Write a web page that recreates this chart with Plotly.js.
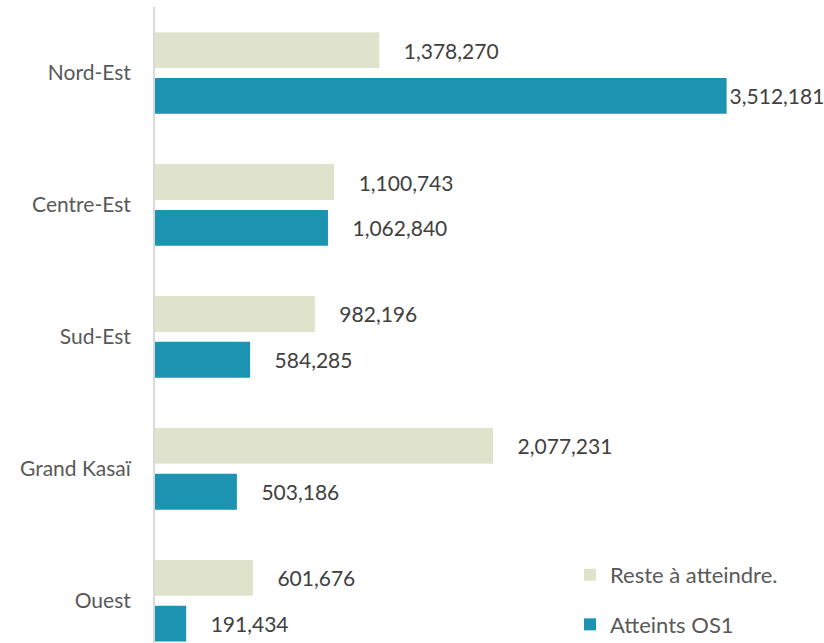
<!DOCTYPE html>
<html>
<head>
<meta charset="utf-8">
<script src="https://cdn.plot.ly/plotly-3.0.1.min.js"></script>
<style>html,body{margin:0;padding:0;background:#fff;}#chart{width:824px;height:643px;}</style>
</head>
<body>
<div id="chart"></div>
<script>
// Categories listed bottom to top (Plotly category axis grows upward)
const categories = ["Ouest", "Grand Kasaï", "Sud-Est", "Centre-Est", "Nord-Est"];
const resteValues = [601676, 2077231, 982196, 1100743, 1378270];
const atteintsValues = [191434, 503186, 584285, 1062840, 3512181];
const seriesNames = ["Reste à atteindre.", "Atteints OS1"];

const allMax = Math.max(...resteValues, ...atteintsValues);
const pad = "\u00a0\u00a0\u00a0\u00a0";
function labels(vals) {
  return vals.map(v => (v === allMax ? "" : pad) + v.toLocaleString("en-US"));
}

const FONT = "Lato, 'Open Sans', sans-serif";

const traces = [
  {
    type: "bar", orientation: "h", name: seriesNames[1],
    y: categories, x: atteintsValues,
    text: labels(atteintsValues), textposition: "outside", cliponaxis: false,
    constraintext: "none",
    textfont: {family: FONT, size: 21, color: "#404040"},
    marker: {color: "#1d93b2"},
    legendgroup: "b", legendrank: 2, hoverinfo: "skip"
  },
  {
    type: "bar", orientation: "h", name: seriesNames[0],
    y: categories, x: resteValues,
    text: labels(resteValues), textposition: "outside", cliponaxis: false,
    constraintext: "none",
    textfont: {family: FONT, size: 21, color: "#404040"},
    marker: {color: "#dfe3cc"},
    legendgroup: "a", legendrank: 1, hoverinfo: "skip"
  }
];

const layout = {
  width: 824, height: 643,
  margin: {l: 155, r: 18, t: 7, b: 0, pad: 0, autoexpand: false},
  paper_bgcolor: "#ffffff", plot_bgcolor: "#ffffff",
  barmode: "group", bargap: 0.306, bargroupgap: 0.217,
  font: {family: FONT, size: 21, color: "#595959"},
  xaxis: {range: [0, 4000000], showgrid: false, zeroline: false, showticklabels: false, ticks: "", showline: false, fixedrange: true, automargin: false},
  yaxis: {type: "category", range: [-0.32, 4.5], showgrid: false, zeroline: false, showline: true, linecolor: "#d9d9d9", linewidth: 2, ticks: "", ticklabelstandoff: 18, automargin: false, tickfont: {family: FONT, size: 21, color: "#595959"}, fixedrange: true},
  showlegend: true,
  legend: {x: 0.6375, xanchor: "left", y: 0.14, yanchor: "top", bgcolor: "rgba(0,0,0,0)", tracegroupgap: 18, font: {family: FONT, size: 22, color: "#595959"}, itemclick: false},
};

Plotly.newPlot("chart", traces, layout, {displayModeBar: false, staticPlot: true});
</script>
</body>
</html>
